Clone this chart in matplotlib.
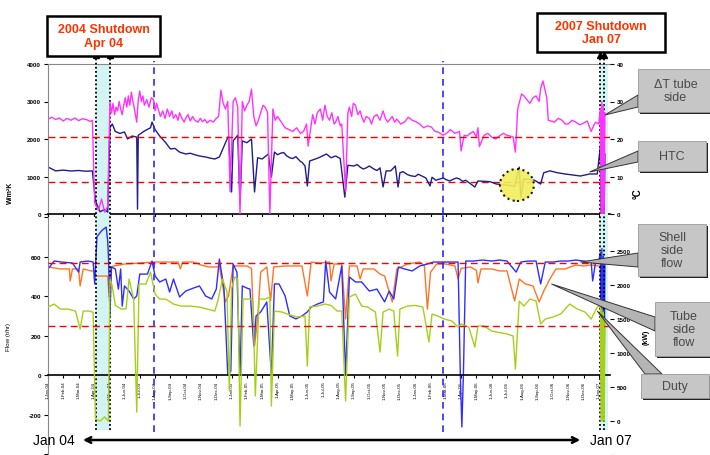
import matplotlib
matplotlib.use("Agg")
import matplotlib.pyplot as plt
from matplotlib.patches import Rectangle, Polygon, Ellipse

plt.rcParams['font.family'] = ['Liberation Sans', 'DejaVu Sans']

# x values are months since 1-Jan-04
MONTHS = ["Jan", "Feb", "Mar", "Apr", "May", "Jun", "Jul", "Aug", "Sep", "Oct", "Nov", "Dec"]
tick_months = list(range(37))
tick_labels = [f"1-{m}-{y}" for y in ("04", "05", "06") for m in MONTHS] + ["1-Jan-07"]

# delta T tube side (right axis, top panel)
dt_month = [0, 0.25, 0.5, 0.75, 1.0, 1.25, 1.5, 1.75, 2.0, 2.25, 2.5, 2.75, 2.9, 3.05, 3.3, 3.5, 3.7, 3.9,
            4.05, 4.15, 4.25, 4.35, 4.45, 4.55, 4.65, 4.75, 4.85, 4.95, 5.05, 5.15, 5.25, 5.35, 5.45, 5.55, 5.65,
            5.8, 5.9, 6.0, 6.1, 6.2, 6.3, 6.45, 6.6, 6.75, 6.9, 7.0, 7.1, 7.2, 7.35, 7.5, 7.65, 7.8, 7.95, 8.1,
            8.2, 8.35, 8.5, 8.6, 8.75, 8.9, 9.0, 9.15, 9.3, 9.45, 9.6, 9.8, 9.95, 10.1, 10.25, 10.4, 10.6, 10.8,
            11.0,
            11.15, 11.3, 11.45, 11.6, 11.75, 11.9, 12.1, 12.25, 12.4, 12.55, 12.7, 12.85, 13.0, 13.15, 13.3,
            13.45, 13.6, 13.75, 13.9, 14.05, 14.2, 14.35, 14.5, 14.7, 14.85, 15.0, 15.25, 15.5, 15.75, 16.0,
            16.25, 16.5, 16.7, 16.9, 17.0,
            17.3, 17.45, 17.6, 17.8, 17.95, 18.1, 18.25, 18.4, 18.55, 18.7, 18.8, 18.95, 19.1, 19.2, 19.45, 19.6,
            19.7, 19.85, 19.95, 20.1, 20.25, 20.4, 20.5, 20.65, 20.8, 21.0, 21.15, 21.3, 21.5, 21.7, 21.9, 22.05,
            22.2, 22.3, 22.5, 22.65, 22.8,
            23.05, 23.3, 23.55, 23.8, 24.05, 24.3, 24.55, 24.8, 25.05, 25.3, 25.55, 25.8, 26.05, 26.3, 26.6, 26.9,
            27.0, 27.2, 27.4, 27.6, 27.8, 28.0, 28.1, 28.2, 28.5, 28.75, 29.0, 29.25, 29.5, 29.75, 30.0, 30.2,
            30.4, 30.55, 30.7, 30.95, 31.1, 31.3, 31.5, 31.7, 31.9, 32.1, 32.2, 32.35, 32.6, 32.7, 33.1, 33.35,
            33.6, 33.8, 34.0, 34.25, 34.5, 34.75, 35.0, 35.25, 35.5, 35.65, 35.8, 36.0, 36.1, 36.15, 36.2, 36.25,
            36.3, 36.35, 36.4]
dt_vals = [25.3, 25.8, 25.2, 25.6, 24.8, 25.5, 25.0, 25.6, 24.9, 25.4, 25.2, 24.7, 25.0, 3.0, 1.0, 4.0, 0.5, 2.0,
           30.0, 27.0, 29.5, 26.5, 28.5, 27.5, 30.0, 28.0, 26.5, 29.0, 31.0, 28.5, 31.5, 29.0, 32.5, 30.0, 28.0,
           24.5, 30.5, 32.8, 30.0, 31.5, 29.0, 30.5, 28.5, 31.0, 30.5, 27.5, 29.5, 28.0, 26.0, 27.5, 25.5, 28.0,
           26.0, 27.5, 25.5, 26.5, 25.0, 27.0, 25.5, 24.5, 25.5, 26.5, 24.8, 26.0, 25.0, 24.5, 25.5, 24.6, 25.2,
           24.3, 25.0, 24.5, 25.5,
           26.0, 33.0, 29.5, 28.0, 30.0, 5.9, 30.0, 31.0, 28.5, 0.0, 30.0, 27.5, 29.0, 30.0, 33.3, 26.0, 23.5,
           25.0, 27.0, 29.0, 28.5, 27.0, 0.0, 28.0, 25.0, 26.0, 24.5, 23.0, 22.5, 22.0, 23.0, 21.5, 22.0, 24.0,
           18.1,
           26.5, 24.0, 27.0, 28.0, 25.0, 29.0, 26.0, 25.0, 27.0, 24.0, 24.5, 26.0, 23.5, 24.0, 5.9, 27.0, 28.5,
           26.0, 29.5, 29.0, 26.5, 27.5, 26.0, 24.5, 26.0, 25.5, 24.0, 26.0, 26.5, 25.0, 27.5, 25.5, 24.5, 25.0,
           26.0, 24.5, 25.3,
           24.0, 24.5, 25.8, 25.0, 24.6, 24.0, 23.0, 23.5, 23.2, 22.0, 21.8, 21.0, 21.5, 22.5, 21.5, 22.0, 16.8,
           21.0, 20.8, 21.5, 22.0, 20.5, 23.0, 18.0, 21.0, 21.5, 20.5, 20.0, 20.8, 21.5, 21.0, 20.8, 20.5, 16.5,
           28.0, 32.0, 31.5, 30.5, 29.5, 31.0, 31.5, 30.0, 33.5, 35.5, 31.0, 25.0, 24.5, 25.5, 25.0, 24.0, 24.0,
           25.0, 24.5, 23.8, 24.2, 24.8, 22.0, 23.5, 24.5, 24.0, 28.0, 0.0, 30.0, 0.0, 29.0, 0.0, 27.0]

# HTC (left axis, top panel)
htc_month = [0, 0.5, 1.0, 1.5, 2.0, 2.5, 2.9, 3.1, 3.4, 3.7, 3.9, 4.05, 4.2, 4.4, 4.7, 5.0, 5.2, 5.5, 5.8, 5.85,
             5.9, 6.3, 6.7, 6.8, 7.0, 7.3, 7.7, 8.0, 8.3, 8.6, 9.0, 9.3, 9.6, 9.9, 10.3, 10.6, 10.9, 11.2, 11.6,
             11.8, 12.0, 12.1, 12.4, 12.55, 12.7, 13.0, 13.3, 13.5, 13.7, 14.0, 14.4, 14.6, 14.8, 15.0, 15.2, 15.4,
             15.6, 15.8, 16.0, 16.2, 16.5, 16.6, 16.8, 16.95, 17.1, 17.5, 17.8, 18.2, 18.5, 18.8, 19.1, 19.4, 19.6,
             20.0, 20.2, 20.4, 20.6, 20.8, 21.0, 21.3, 21.5, 21.7, 21.9, 22.1, 22.4, 22.7, 22.88, 23.0, 23.2, 23.5,
             23.7, 24.0, 24.2, 24.5, 24.7, 24.97, 25.1, 25.35, 25.6, 25.85, 26.0, 26.25, 26.5, 26.7, 26.9, 27.1,
             27.3, 27.9, 28.1, 28.6, 28.9, 29.3, 29.8, 30.2, 30.5, 30.8, 30.9, 31.1, 31.5, 31.8, 32.2, 32.4, 32.8,
             33.3, 33.8, 34.3, 34.8, 35.4, 35.9, 36.1, 36.15, 36.2, 36.25, 36.3, 36.35, 36.4]
htc_vals = [1253, 1150, 1170, 1147, 1160, 1140, 1150, 350, 60, 120, 50, 2300, 2400, 2200, 2150, 2187, 2000, 2080,
            2050, 130, 2100, 2213, 2300, 2453, 2250, 2080, 1900, 1733, 1750, 1650, 1600, 1620, 1580, 1547, 1520,
            1490, 1467, 1520, 1900, 2080, 587, 1950, 2100, 267, 1950, 1900, 2000, 587, 1500, 1467, 1600, 987, 1653,
            1580, 1620, 1640, 1550, 1500, 1480, 1530, 1400, 1380, 1280, 747, 1413, 1470, 1520, 1600, 1500, 1547,
            1480, 450, 1300, 1280, 1320, 1250, 1200, 1230, 1280, 1200, 1160, 1230, 720, 1150, 1150, 1280, 720,
            1100, 1130, 1050, 1020, 1000, 1060, 1000, 960, 747, 980, 900, 933, 960, 920, 880, 930, 960, 933, 870,
            900, 720, 880, 870, 860, 800, 780, 760, 740, 1250, 450, 933, 920, 900, 800, 1100, 1150, 1100, 1067,
            1040, 1013, 1067, 1067, 1800, 0, 1700, 0, 1750, 0, 1600]

# shell side flow (left axis, bottom panel)
shell_month = [0, 0.4, 0.9, 1.6, 2.0, 2.1, 2.6, 2.95, 3.05, 3.2, 3.5, 3.8, 3.9, 3.95, 4.05, 4.15, 4.4, 4.6, 4.75,
               4.85, 5.0, 5.3, 5.6, 5.8, 6.0, 6.5, 6.8, 7.0, 7.3, 7.7, 7.95, 8.2, 8.6, 9.0, 9.5, 9.9, 10.3, 10.7,
               11.0, 11.2, 11.5, 11.75, 11.95, 12.1, 12.35, 12.55, 12.7, 13.0, 13.2, 13.45, 13.6, 13.9, 14.3, 14.6,
               14.8, 15.1, 15.5, 15.8, 16.2, 16.6, 16.95, 17.2, 17.6, 18.0, 18.15, 18.4, 18.8, 19.2, 19.45, 19.7,
               20.1, 20.5, 21.0, 21.5, 22.0, 22.3, 22.6, 22.9, 23.3, 23.8, 24.3, 24.8, 25.2, 25.8, 26.3, 26.8, 26.95,
               27.05, 27.15, 27.3, 27.8, 28.4, 29.0, 29.5, 30.0, 30.6, 30.9, 31.4, 31.9, 32.2, 32.5, 33.0, 33.5,
               34.0, 34.5, 35.0, 35.5, 35.6, 35.8, 36.0, 36.1, 36.15, 36.2, 36.25, 36.3, 36.35, 36.4]
shell_vals = [537, 577, 572, 567, 521, 572, 577, 572, 461, 700, 730, 749, 680, 603, 299, 547, 537, 435, 537, 349,
              451, 425, 385, 400, 511, 511, 577, 501, 471, 486, 420, 486, 395, 425, 440, 451, 400, 385, 435, 587,
              440, 0, 20, 562, 520, 0, 451, 440, 435, 147, 299, 319, 370, 0, 461, 461, 400, 299, 284, 299, 319, 344,
              359, 370, 577, 420, 385, 552, 0, 496, 471, 471, 425, 435, 370, 425, 385, 547, 537, 527, 552, 562, 572,
              572, 572, 572, 0, -263, 0, 577, 577, 582, 577, 582, 577, 521, 572, 577, 577, 461, 572, 572, 577, 577,
              582, 577, 572, 476, 577, 577, 620, 0, 640, 50, 600, 0, 560]

# tube side flow (left axis, bottom panel)
tube_month = [0, 0.8, 1.4, 1.45, 1.6, 2.0, 2.1, 2.3, 2.8, 3.0, 3.1, 3.9, 4.0, 4.1, 4.3, 5.0, 6.0, 7.0, 8.0, 8.5,
              8.65, 8.8, 9.5, 10.0, 10.5, 11.0, 11.2, 11.6, 11.8, 12.1, 12.6, 13.0, 13.3, 13.5, 13.7, 13.9, 14.3,
              14.55, 14.75, 15.5, 16.0, 16.6, 16.95, 17.2, 17.8, 18.4, 18.5, 18.7, 19.2, 19.45, 19.7, 20.2, 20.4,
              20.6, 21.3, 21.7, 22.0, 22.5, 22.8, 23.5, 24.3, 24.6, 24.8, 25.0, 25.4, 26.0, 26.6, 26.8, 27.0, 27.6,
              28.0, 28.1, 28.3, 29.0, 29.5, 30.0, 30.5, 30.8, 31.2, 31.7, 32.1, 32.4, 32.8, 33.2, 33.8, 34.5, 35.0,
              35.5, 36.0]
tube_vals = [547, 537, 537, 476, 537, 537, 451, 537, 527, 527, 501, 501, 395, 547, 552, 562, 567, 572, 572, 572,
             537, 572, 572, 557, 547, 547, 552, 370, 400, 552, 552, 552, 540, 147, 284, 521, 547, 375, 547, 552,
             552, 552, 400, 572, 567, 572, 476, 562, 562, 284, 552, 552, 486, 537, 537, 511, 501, 370, 537, 562,
             572, 552, 334, 520, 562, 562, 552, 486, 540, 547, 530, 466, 537, 537, 527, 527, 375, 486, 461, 451,
             370, 425, 486, 537, 537, 557, 552, 557, 552]

# duty (right axis, bottom panel)
duty_month = [0, 0.4, 0.8, 1.3, 1.8, 2.1, 2.3, 2.7, 2.95, 3.1, 3.4, 3.7, 3.95, 4.05, 4.2, 4.4, 4.8, 5.1, 5.3, 5.6,
              5.8, 5.95, 6.4, 6.7, 7.0, 7.3, 7.7, 8.2, 8.7, 9.3, 9.9, 10.4, 10.9, 11.1, 11.4, 11.7, 11.85, 12.0,
              12.2, 12.4, 12.55, 12.75, 13.2, 13.4, 13.55, 13.8, 14.2, 14.5, 14.6, 14.8, 15.3, 15.8, 16.3, 16.8,
              16.95, 17.1, 17.6, 18.1, 18.5, 18.9, 19.2, 19.45, 19.7, 20.1, 20.5, 20.9, 21.4, 21.7, 21.9, 22.3,
              22.6, 22.85, 23.0, 23.5, 24.0, 24.5, 24.9, 25.1, 25.5, 25.9, 26.4, 26.8, 27.0, 27.5, 27.9, 28.1, 28.5,
              29.0, 29.5, 30.0, 30.4, 30.55, 30.8, 31.1, 31.5, 31.9, 32.2, 32.5, 33.0, 33.5, 34.1, 34.6, 35.1, 35.5,
              35.9, 36.1, 36.15, 36.2, 36.25, 36.3, 36.35, 36.4]
duty_vals = [1676, 1720, 1646, 1646, 1617, 1352, 1617, 1617, 1600, 30, 0, 59, 0, 2087, 1985, 1700, 1646, 1650,
             2087, 1793, 132, 2014, 2014, 2190, 1867, 1793, 1793, 1720, 1690, 1690, 1676, 1646, 1617, 1764, 2087,
             1900, 441, 1950, 2117, 2087, -74, 1793, 1793, 1764, 368, 1793, 1793, 1823, 220, 1617, 1602, 1560,
             1529, 1543, 808, 1676, 1690, 1720, 1700, 1617, 1617, 294, 1823, 1867, 1690, 1676, 1602, 1014, 1602,
             1646, 1617, 955, 1646, 1690, 1700, 1676, 1161, 1573, 1543, 1499, 1470, 1382, 1426, 1382, 1088, 1396,
             1396, 1323, 1300, 1280, 1250, 764, 1764, 1690, 1793, 1764, 1426, 1499, 1529, 1573, 1720, 1646, 1602,
             1499, 1676, 1700, 0, 1650, 0, 1600, 0, 1500]

htc_design = 853
dt_design = 20.5
flow_design = 567
duty_design = 1400

shutdown_spans = [(3.14, 4.05), (36.08, 36.6)]
shutdown_lines = [3.14, 4.05, 36.08, 36.34]
event_lines = [6.93, 25.82]
circle_center = (30.65, 773)

W, H = 710.0, 456.0
PX_PER_MONTH = 15.3


def frame(x0, y0, x1, y1):
    return [x0 / W, 1 - y1 / H, (x1 - x0) / W, (y1 - y0) / H]


fig = plt.figure(figsize=(7.1, 4.56), dpi=100)
ax1 = fig.add_axes(frame(48, 65, 610, 215))
ax2 = fig.add_axes(frame(48, 218, 610, 456))
ax1r = ax1.twinx()
ax2r = ax2.twinx()

x_max = (610 - 48) / PX_PER_MONTH
for a in (ax1, ax2):
    a.set_xlim(0, x_max)
ax1.set_ylim(0, 4000)
ax1r.set_ylim(0, 40)
ax2.set_ylim(-405, 800)
ax2r.set_ylim(-500, 3000)

cyan = '#d4f3f3'
for a, b in shutdown_spans:
    ax1.axvspan(a, b, color=cyan, lw=0, zorder=0)
    sp = ax2.axvspan(a, b, ymin=0.105, ymax=1.015, color=cyan, lw=0, zorder=0)
    sp.set_clip_on(False)

# series
ax1.plot(htc_month, htc_vals, color='#1e1e8c', lw=1.0, zorder=2)
ax1.axhline(htc_design, color='#ff0000', ls=(0, (5, 3)), lw=1.0, zorder=1)
ax1r.plot(dt_month, dt_vals, color='#ff33ff', lw=1.0)
ax1r.axhline(dt_design, color='#ff0000', ls=(0, (5, 3)), lw=1.0)

ax2.plot(tube_month, tube_vals, color='#ff7426', lw=1.0, zorder=2)
ax2.plot(shell_month, shell_vals, color='#2e2eff', lw=1.0, zorder=2)
ax2.axhline(flow_design, color='#ff0000', ls=(0, (5, 3)), lw=1.0, zorder=3)
ax2r.plot(duty_month, duty_vals, color='#a6d018', lw=1.0)
ax2r.axhline(duty_design, color='#ff0000', ls=(0, (5, 3)), lw=1.0)

ax1.add_patch(Ellipse(circle_center, width=34 / PX_PER_MONTH, height=32 * 4000 / 150,
                      facecolor='#f2ee5a', edgecolor='k', ls=':', lw=1.5, alpha=0.9, zorder=3))

# shutdown marker lines and event lines
for x in shutdown_lines:
    ax1.plot([x, x], [0, 1.035], transform=ax1.get_xaxis_transform(), color='k',
             ls=(0, (1, 1.3)), lw=1.3, clip_on=False, zorder=4)
    ax1.plot([x], [1.06], transform=ax1.get_xaxis_transform(), marker='^', ms=4,
             color='k', clip_on=False, zorder=4)
    ax2.plot([x, x], [0.105, 1.015], transform=ax2.get_xaxis_transform(), color='k',
             ls=(0, (1, 1.3)), lw=1.3, clip_on=False, zorder=4)
for x in event_lines:
    ax1.plot([x, x], [0, 1.02], transform=ax1.get_xaxis_transform(), color='#2a2aff',
             ls=(0, (4, 3)), lw=1.2, clip_on=False, zorder=4)
    ax2.plot([x, x], [0.097, 1.015], transform=ax2.get_xaxis_transform(), color='#2a2aff',
             ls=(0, (4, 3)), lw=1.2, clip_on=False, zorder=4)

# axes styling
for a in (ax1, ax2):
    a.tick_params(axis='y', length=3, width=0.8, pad=2, colors='k', labelsize=4.5)
    a.tick_params(axis='x', length=2.5, width=0.8, pad=1.5, direction='out')
for a in (ax1r, ax2r):
    a.tick_params(axis='y', length=3, width=0.8, pad=2, labelsize=4.5)
    for s in a.spines.values():
        s.set_visible(False)

ax1.set_yticks([0, 1000, 2000, 3000, 4000])
ax1.set_yticklabels(['0', '1000', '2000', '3000', '4000'], fontweight='bold')
ax1r.set_yticks([0, 10, 20, 30, 40])
ax1r.set_yticklabels(['0', '10', '20', '30', '40'], fontweight='bold')
ax2.set_yticks([-400, -200, 0, 200, 400, 600, 800])
ax2.set_yticklabels(['', '-200', '0', '200', '400', '600', ''], fontweight='bold')
ax2r.set_yticks([-500, 0, 500, 1000, 1500, 2000, 2500])
ax2r.set_yticklabels(['', '0', '500', '1000', '1500', '2000', '2500'], fontweight='bold')

ax1.set_xticks(tick_months)
ax1.tick_params(axis='x', labelbottom=False)
ax2.set_xticks(tick_months)
ax2.set_xticklabels(tick_labels)
ax2.tick_params(axis='x', labelsize=3.2, labelrotation=90)

ax1.spines['right'].set_visible(False)
ax1.spines['top'].set_color('#888888')
ax1.spines['left'].set_color('#888888')
ax1.spines['bottom'].set_linewidth(1.2)
ax2.spines['right'].set_visible(False)
ax2.spines['top'].set_visible(False)
ax2.spines['left'].set_color('#888888')
ax2.spines['bottom'].set_position(('data', 0))
ax2.spines['bottom'].set_linewidth(1.2)

ax1.set_ylabel('W/m²K', fontsize=5, fontweight='bold')
ax1.yaxis.set_label_coords(-0.06, 0.15)
ax2.set_ylabel('Flow (t/hr)', fontsize=4.5)
ax2.yaxis.set_label_coords(-0.065, 0.5)
ax1r.set_ylabel('°C', fontsize=7, fontweight='bold', rotation=90)
ax1r.yaxis.set_label_coords(1.04, 0.14)
ax2r.set_ylabel('(kW)', fontsize=5, fontweight='bold', rotation=90)
ax2r.yaxis.set_label_coords(1.058, 0.5)

# Jan 04 <---> Jan 07
ax2.annotate('', xy=(34.97, 0.063), xytext=(2.1, 0.063), xycoords=ax2.get_xaxis_transform(),
             textcoords=ax2.get_xaxis_transform(),
             arrowprops=dict(arrowstyle='<->', lw=1.8, color='k', mutation_scale=10))
ax2.text(0.4, 0.063, 'Jan 04', transform=ax2.get_xaxis_transform(), fontsize=10,
         ha='center', va='center')
ax2.text(36.8, 0.063, 'Jan 07', transform=ax2.get_xaxis_transform(), fontsize=10,
         ha='center', va='center')

# overlay for call-outs, in pixel coordinates
ov = fig.add_axes([0, 0, 1, 1])
ov.set_xlim(0, W)
ov.set_ylim(H, 0)
ov.axis('off')


def to_px(a, x, y):
    return ov.transData.inverted().transform(a.transData.transform((x, y)))


for txt, (x0, y0, x1, y1) in [("2004 Shutdown\nApr 04", (47, 17, 160, 57)),
                              ("2007 Shutdown\nJan 07", (537, 14, 665, 53))]:
    ov.add_patch(Rectangle((x0, y0), x1 - x0, y1 - y0, facecolor='white', edgecolor='k', lw=1.8))
    ov.text((x0 + x1) / 2, (y0 + y1) / 2, txt, color='#ff3300', fontsize=9, fontweight='bold',
            ha='center', va='center', linespacing=1.15)

callouts = [
    ("ΔT tube\nside", (638, 70, 713, 113), [(638, 96), (638, 108)], ax1r, (36.4, 26.4)),
    ("HTC", (638, 142, 706, 172), [(638, 152), (638, 163)], ax1, (35.4, 1120)),
    ("Shell\nside\nflow", (638, 225, 706, 277), [(638, 254), (638, 268)], ax2, (34.8, 572)),
    ("Tube\nside\nflow", (655, 303, 713, 357), [(655, 318), (655, 332)], ax2, (32.9, 461)),
    ("Duty", (641, 375, 709, 399), [(645, 375), (662, 375)], ax2r, (35.9, 1617)),
]
for txt, (x0, y0, x1, y1), base, a, target in callouts:
    tip = to_px(a, *target)
    ov.add_patch(Polygon([base[0], base[1], tuple(tip)], closed=True, facecolor='#b4b4b4',
                         edgecolor='#333333', lw=0.7, zorder=2))
    ov.add_patch(Rectangle((x0 + 2, y0 + 2), x1 - x0, y1 - y0, facecolor='#222222', lw=0, zorder=3))
    ov.add_patch(Rectangle((x0, y0), x1 - x0, y1 - y0, facecolor='#c6c6c6', edgecolor='#9a9a9a',
                           lw=0.6, zorder=4))
    ov.text((x0 + x1) / 2, (y0 + y1) / 2, txt, color='#4a4a4a', fontsize=9, ha='center',
            va='center', linespacing=1.1, zorder=5)

fig.savefig('out.png', dpi=100)
